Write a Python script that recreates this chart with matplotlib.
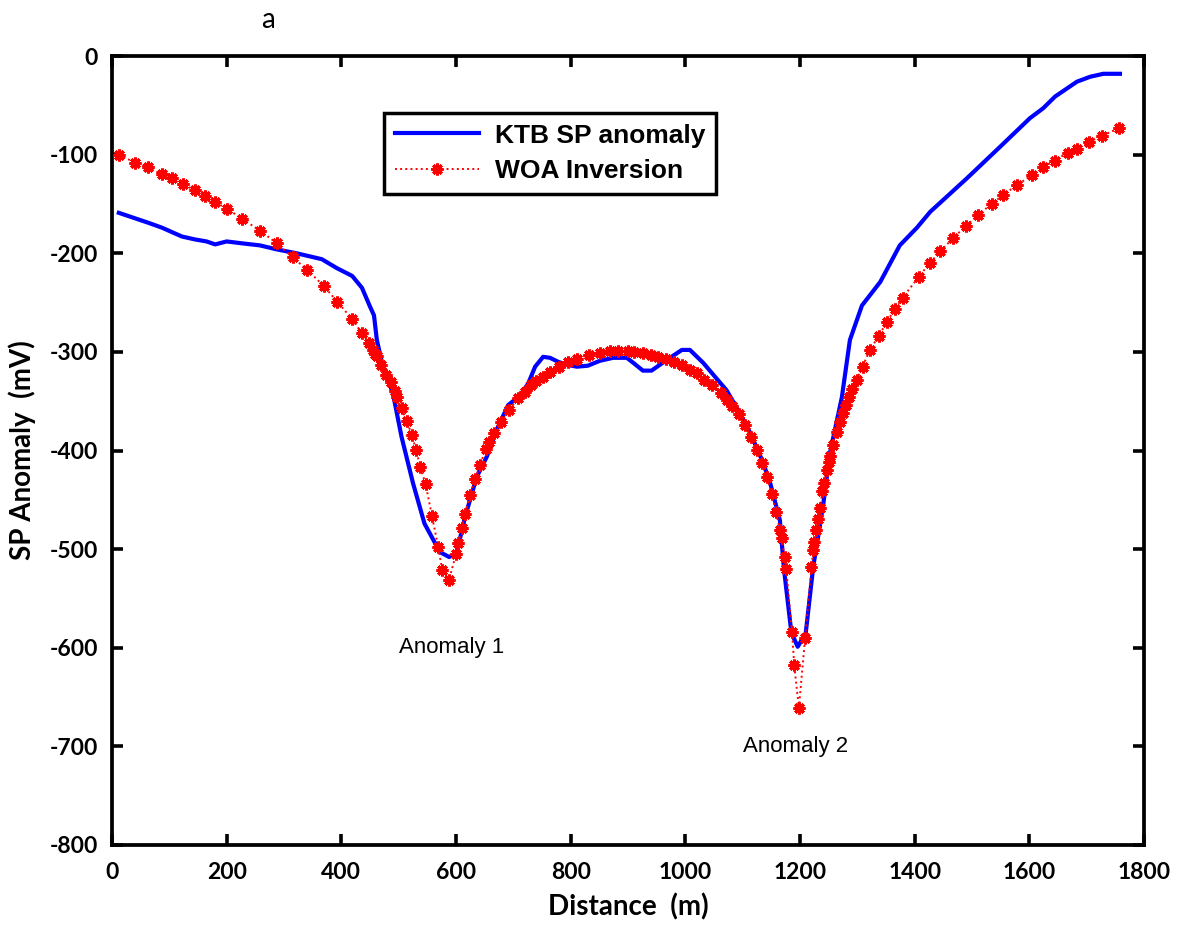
import numpy as np
import matplotlib
matplotlib.use("Agg")
import matplotlib.pyplot as plt

plt.rcParams["axes.unicode_minus"] = False

ktb_x = [12, 63, 87, 122, 145, 165, 180, 200, 228, 258, 287, 322, 366, 392, 419,
         436, 450, 457, 462, 471, 490, 505, 525, 545, 572, 588, 601, 616, 636,
         654, 671, 691, 712, 726, 738, 752, 764, 778, 793, 811, 830, 851, 874,
         898, 909, 926, 941, 968, 994, 1008, 1031, 1072, 1095, 1113, 1134, 1148,
         1165, 1172, 1185, 1196, 1210, 1223, 1240, 1252, 1273, 1287, 1308, 1340,
         1374, 1404, 1427, 1491, 1549, 1601, 1624, 1645, 1683, 1706, 1729, 1758]
ktb_y = [-159, -169, -174, -183, -186, -188, -191, -188, -190, -192, -196, -200,
         -206, -215, -223, -235, -254, -263, -288, -311, -342, -386, -433, -474,
         -503, -508, -504, -467, -427, -406, -379, -354, -344, -332, -315, -305,
         -306, -310, -313, -315, -314, -309, -306, -306, -311, -319, -319, -308,
         -298, -298, -311, -339, -362, -382, -410, -433, -471, -520, -585, -599,
         -585, -518, -457, -403, -346, -288, -253, -229, -192, -174, -158, -124,
         -92, -63, -53, -41, -26, -21, -18, -18]

# WOA inversion (computed response)
woa_x = [12, 40, 63, 87, 104, 124, 144, 163, 180, 201, 227, 258, 288, 315, 341,
         369, 393, 419, 436, 448, 455, 459, 462, 470, 478, 486, 494, 498, 505,
         514, 523, 530, 538, 547, 558, 569, 576, 588, 600, 604, 610, 616, 625,
         633, 642, 652, 658, 667, 678, 693, 708, 720, 731, 740, 752, 764, 779,
         796, 811, 832, 852, 869, 883, 900, 911, 926, 940, 953, 966, 980, 995,
         1009, 1020, 1033, 1047, 1062, 1073, 1081, 1093, 1104, 1115, 1125, 1134,
         1142, 1151, 1158, 1165, 1168, 1173, 1176, 1186, 1190, 1198, 1209, 1220,
         1223, 1225, 1228, 1231, 1235, 1239, 1242, 1247, 1251, 1253, 1258, 1265,
         1270, 1275, 1280, 1286, 1291, 1299, 1309, 1322, 1337, 1351, 1365, 1379,
         1407, 1426, 1445, 1466, 1490, 1511, 1534, 1554, 1578, 1604, 1623, 1644,
         1667, 1683, 1704, 1726, 1757]
woa_y = [-100, -108, -113, -120, -124, -130, -136, -142, -148, -155, -165, -177,
         -190, -204, -217, -233, -249, -267, -281, -291, -298, -302, -304, -313,
         -323, -331, -340, -346, -357, -370, -384, -399, -417, -434, -466, -498,
         -521, -531, -505, -494, -479, -464, -445, -429, -415, -398, -391, -382,
         -371, -359, -347, -341, -334, -330, -325, -320, -315, -310, -307, -303,
         -301, -299, -299, -299, -300, -301, -303, -305, -307, -310, -313, -318,
         -321, -328, -334, -342, -349, -355, -363, -374, -386, -399, -413, -427,
         -444, -462, -481, -489, -508, -520, -584, -618, -661, -590, -518, -501,
         -493, -481, -469, -458, -441, -433, -420, -412, -406, -394, -381, -371,
         -362, -354, -346, -338, -328, -315, -298, -284, -270, -257, -245, -224,
         -210, -198, -185, -172, -161, -150, -141, -131, -121, -113, -106, -98,
         -94, -87, -81, -73]

xticks = np.arange(0, 1801, 200)
yticks = np.arange(-800, 1, 100)

tick_font = "Lato"
text_font = "Liberation Sans"

fig = plt.figure(figsize=(11.81, 9.31), dpi=100)
ax = fig.add_axes([0.0948, 0.0924, 0.8739, 0.8474])

ax.plot(ktb_x, ktb_y, color="#0000ff", lw=3.0, label="KTB SP anomaly", zorder=2)
ax.plot(woa_x, woa_y, color="red", ls=":", lw=1.4, marker=(8, 2, 0),
        markersize=8.5, markeredgewidth=2.2, markeredgecolor="red",
        label="WOA Inversion", zorder=3)

ax.set_xlim(0, 1800)
ax.set_ylim(-800, 0)
ax.set_xticks(xticks)
ax.set_yticks(yticks)
ax.tick_params(direction="in", length=8, width=2.6, top=True, right=True,
               labelsize=16.5)
ax.tick_params(axis="x", pad=12)
ax.tick_params(axis="y", pad=10)
for lab in ax.get_xticklabels() + ax.get_yticklabels():
    lab.set_fontfamily(tick_font)
    lab.set_fontweight("bold")
for s in ax.spines.values():
    s.set_linewidth(2.7)

ax.set_xlabel("Distance  (m)", fontsize=20, fontweight="bold", family=tick_font, labelpad=8)
ax.set_ylabel("SP Anomaly  (mV)", fontsize=20, fontweight="bold", family=tick_font, labelpad=10)

ax.text(500, -600, "Anomaly 1", fontsize=16, family=text_font, va="center", ha="left")
ax.text(1100, -700, "Anomaly 2", fontsize=16, family=text_font, va="center", ha="left")

fig.text(0.2269, 0.978, "a", fontsize=20, family=tick_font, ha="center", va="center")

leg = ax.legend(loc="upper left", bbox_to_anchor=(0.2636, 0.9278), borderaxespad=0,
                fancybox=False, edgecolor="black", framealpha=1,
                prop={"family": text_font, "weight": "bold", "size": 19},
                handlelength=3.2, borderpad=0.4, labelspacing=0.45, handletextpad=0.6)
leg.get_frame().set_linewidth(2.5)

fig.savefig("out.png", dpi=100)
